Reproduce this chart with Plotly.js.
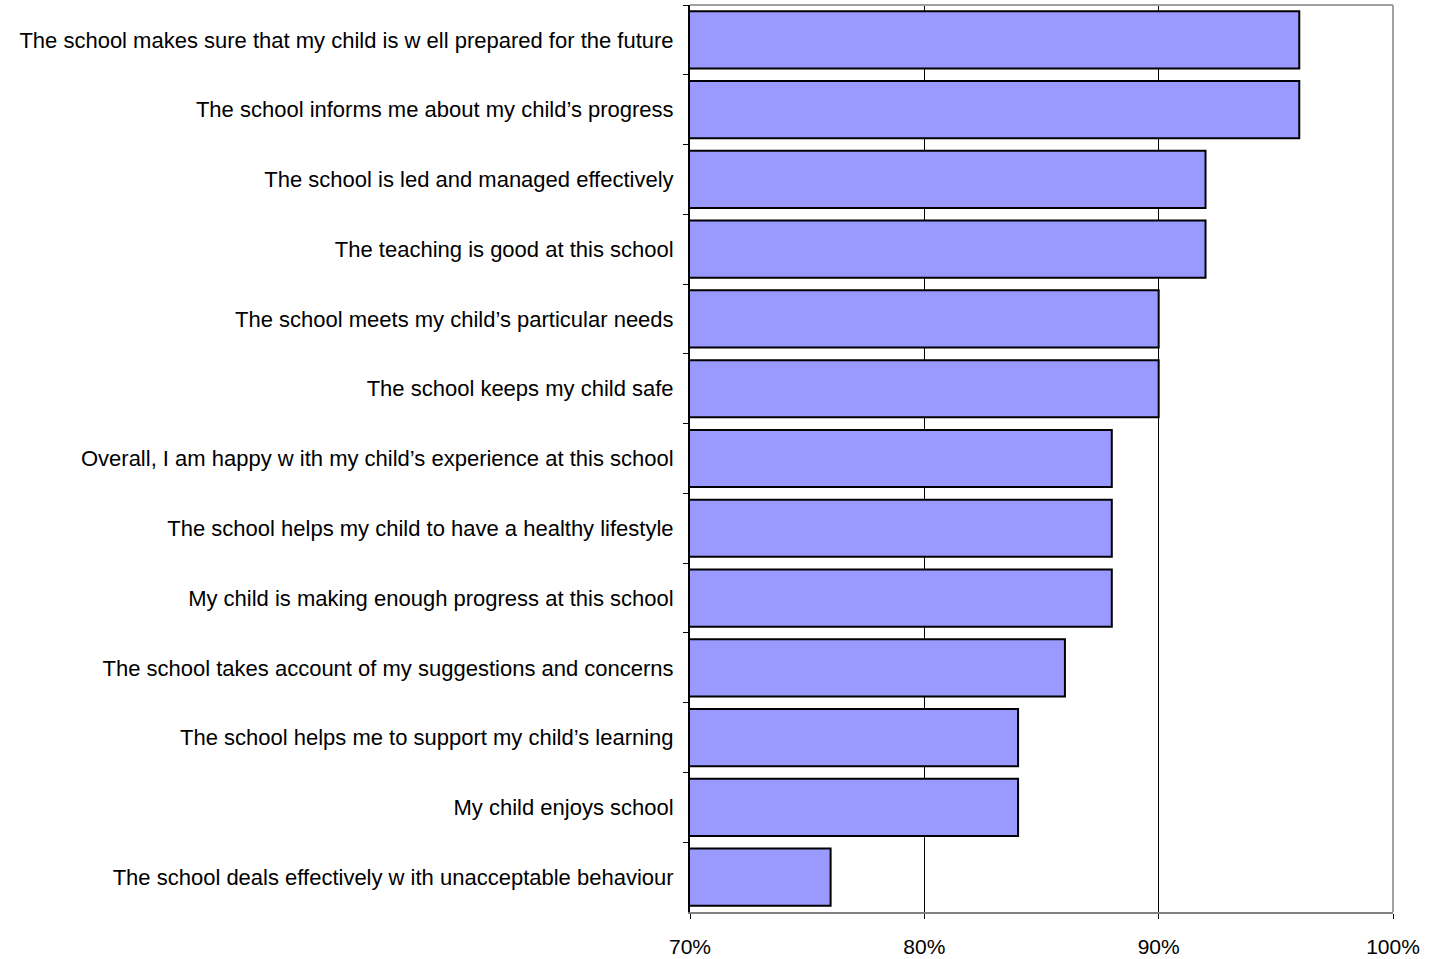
<!DOCTYPE html>
<html>
<head>
<meta charset="utf-8">
<script src="https://cdn.plot.ly/plotly-3.0.1.min.js"></script>
<style>html,body{margin:0;padding:0;background:#fff;}#chart{width:1438px;height:959px;}</style>
</head>
<body>
<div id="chart"></div>
<script>
const categories = [
  "The school makes sure that my child is w ell prepared for the future",
  "The school informs me about my child\u2019s progress",
  "The school is led and managed effectively",
  "The teaching is good at this school",
  "The school meets my child\u2019s particular needs",
  "The school keeps my child safe",
  "Overall, I am happy w ith my child\u2019s experience at this school",
  "The school helps my child to have a healthy lifestyle",
  "My child is making enough progress at this school",
  "The school takes account of my suggestions and concerns",
  "The school helps me to support my child\u2019s learning",
  "My child enjoys school",
  "The school deals effectively w ith unacceptable behaviour"
];
const values = [96, 96, 92, 92, 90, 90, 88, 88, 88, 86, 84, 84, 76];
const xTickVals = [70, 80, 90, 100];
const xTickText = ["70%", "80%", "90%", "100%"];

const trace = {
  type: 'bar',
  orientation: 'h',
  y: categories,
  x: values,
  base: 0,
  marker: {color: '#9999FF', line: {color: '#000000', width: 2}},
  hoverinfo: 'x+y'
};

const layout = {
  width: 1438,
  height: 959,
  margin: {l: 690, r: 45, t: 5, b: 47},
  paper_bgcolor: '#ffffff',
  plot_bgcolor: '#ffffff',
  showlegend: false,
  bargap: 0.18,
  font: {family: 'Liberation Sans, Arial, sans-serif', size: 22, color: '#000000'},
  xaxis: {
    range: [70, 100],
    tickvals: xTickVals,
    ticktext: xTickText,
    ticks: 'outside',
    ticklen: 5,
    tickcolor: '#000000',
    ticklabelstandoff: 10,
    showgrid: true,
    gridcolor: '#000000',
    gridwidth: 1,
    showline: true,
    linecolor: '#808080',
    linewidth: 2,
    zeroline: false,
    tickfont: {size: 21}
  },
  yaxis: {
    type: 'category',
    autorange: 'reversed',
    tickson: 'boundaries',
    ticks: 'outside',
    ticklen: 5,
    tickcolor: '#000000',
    ticklabelstandoff: 10,
    showgrid: false,
    showline: true,
    linecolor: '#000000',
    linewidth: 2,
    zeroline: false,
    tickfont: {size: 22},
    automargin: false
  },
  shapes: [
    {type: 'line', xref: 'paper', yref: 'paper', x0: 0, x1: 1, y0: 1, y1: 1, line: {color: '#a0a0a0', width: 2}, layer: 'above'},
    {type: 'line', xref: 'paper', yref: 'paper', x0: 1, x1: 1, y0: 0, y1: 1, line: {color: '#a0a0a0', width: 2}, layer: 'above'}
  ]
};

Plotly.newPlot('chart', [trace], layout, {displayModeBar: false, staticPlot: true});
</script>
</body>
</html>
